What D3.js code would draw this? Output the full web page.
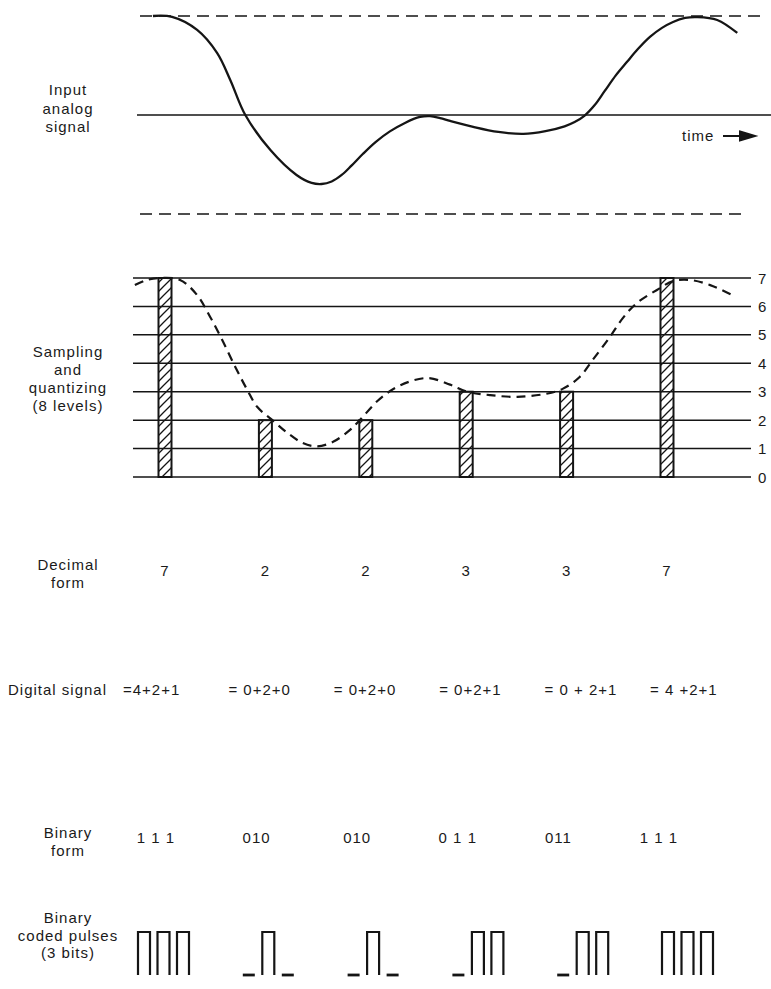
<!DOCTYPE html>
<html>
<head>
<meta charset="utf-8">
<script src="https://cdn.jsdelivr.net/npm/d3@7"></script>
<style>
  body { margin: 0; background: #fff; }
  svg text {
    font-family: "Liberation Sans", Arial, sans-serif;
    font-size: 15px;
    fill: #1a1a1a;
    letter-spacing: 1px;
  }
</style>
</head>
<body>
<div id="chart"></div>
<script>
// sample instants and the level each sample is quantized to
const samples = [0, 1, 2, 3, 4, 5];
const quantized = [7, 2, 2, 3, 3, 7];
const levels = [0, 1, 2, 3, 4, 5, 6, 7];

// row texts, as printed
const decimalLabels = ["7", "2", "2", "3", "3", "7"];
const digitalLabels = ["=4+2+1", "= 0+2+0", "= 0+2+0", "= 0+2+1", "= 0 + 2+1", "= 4 +2+1"];
const binaryLabels = ["1 1 1", "010", "010", "0 1 1", "011", "1 1 1"];

// input analog signal [time, level]
const analogSignal = [
  [-0.12, 7.0], [0.07, 6.97], [0.32, 6.51], [0.52, 5.69], [0.65, 4.74],
  [0.80, 3.5], [1.05, 2.26], [1.31, 1.38], [1.46, 1.10], [1.56, 1.06],
  [1.66, 1.15], [1.76, 1.38], [1.86, 1.72], [1.97, 2.12], [2.10, 2.55],
  [2.24, 2.92], [2.39, 3.22], [2.54, 3.43], [2.64, 3.46], [2.74, 3.39],
  [2.84, 3.29], [3.07, 3.08], [3.32, 2.90], [3.57, 2.83], [3.79, 2.93],
  [3.98, 3.10], [4.08, 3.25], [4.18, 3.48], [4.28, 3.85], [4.38, 4.35],
  [4.49, 4.90], [4.60, 5.37], [4.71, 5.83], [4.83, 6.26], [4.95, 6.58],
  [5.06, 6.79], [5.18, 6.93], [5.30, 6.96], [5.50, 6.86], [5.70, 6.40]
];

// same signal as traced (dashed) over the quantizing grid
const sampledTrace = [
  [-0.30, 6.75], [-0.18, 6.93], [-0.05, 7.0], [0.15, 6.93], [0.32, 6.40],
  [0.45, 5.63], [0.57, 4.82], [0.70, 3.87], [0.82, 3.06], [0.92, 2.46],
  [1.07, 2.0], [1.22, 1.55], [1.37, 1.20], [1.51, 1.08], [1.67, 1.23],
  [1.84, 1.65], [1.94, 2.0], [2.14, 2.75], [2.34, 3.22], [2.61, 3.48],
  [2.84, 3.25], [3.01, 3.0], [3.24, 2.88], [3.51, 2.82], [3.80, 2.93],
  [3.96, 3.1], [4.13, 3.52], [4.26, 4.12], [4.43, 4.92], [4.56, 5.59],
  [4.70, 6.12], [4.90, 6.58], [5.06, 6.89], [5.23, 6.93], [5.43, 6.75],
  [5.65, 6.40]
];

const width = 771, height = 989;
const ink = "#151515";

const svg = d3.select("#chart").append("svg")
  .attr("width", width)
  .attr("height", height)
  .style("display", "block")
  .style("background", "#fff");

// hatch for the sample bars
svg.append("defs").append("pattern")
  .attr("id", "hatch")
  .attr("patternUnits", "userSpaceOnUse")
  .attr("width", 9)
  .attr("height", 9)
  .append("path")
  .attr("d", "M-2,2 L2,-2 M0,9 L9,0 M7,11 L11,7")
  .attr("stroke", ink)
  .attr("stroke-width", 1.3);

const x = d3.scaleLinear().domain([0, 5]).range([165, 667]);
const yTop = d3.scaleLinear().domain([0, 7]).range([214, 16]);
const yLev = d3.scaleLinear().domain([0, 7]).range([477, 278]);

// left column labels
function sideLabel(lines, y0, step) {
  const t = svg.append("text").attr("text-anchor", "middle");
  lines.forEach((s, i) => {
    t.append("tspan").attr("x", 68).attr("y", y0 + i * step).text(s);
  });
}

/* ---------- input analog signal ---------- */
sideLabel(["Input", "analog", "signal"], 95, 18.5);

svg.append("line")
  .attr("x1", 140).attr("x2", 760)
  .attr("y1", yTop(7)).attr("y2", yTop(7))
  .attr("stroke", ink).attr("stroke-width", 1.5)
  .attr("stroke-dasharray", "12,7");

svg.append("line")
  .attr("x1", 140).attr("x2", 748)
  .attr("y1", yTop(0)).attr("y2", yTop(0))
  .attr("stroke", ink).attr("stroke-width", 1.5)
  .attr("stroke-dasharray", "12,7");

svg.append("line")
  .attr("x1", 137).attr("x2", 771)
  .attr("y1", yTop(3.5)).attr("y2", yTop(3.5))
  .attr("stroke", ink).attr("stroke-width", 1.4);

svg.append("path")
  .datum(analogSignal)
  .attr("fill", "none")
  .attr("stroke", ink)
  .attr("stroke-width", 2.3)
  .attr("d", d3.line()
    .x(d => x(d[0]))
    .y(d => yTop(d[1]))
    .curve(d3.curveCatmullRom.alpha(0.5)));

svg.append("text")
  .attr("x", 682).attr("y", 141)
  .text("time");

svg.append("path")
  .attr("d", "M723,136 H742 M740,131.5 L755,136 L740,140.5 Z")
  .attr("stroke", ink)
  .attr("stroke-width", 2)
  .attr("fill", ink);

/* ---------- sampling and quantizing ---------- */
sideLabel(["Sampling", "and", "quantizing", "(8 levels)"], 357, 18);

svg.append("g")
  .selectAll("rect")
  .data(samples)
  .join("rect")
  .attr("x", d => x(d) - 6.5)
  .attr("width", 13)
  .attr("y", (d, i) => yLev(quantized[i]))
  .attr("height", (d, i) => yLev(0) - yLev(quantized[i]))
  .attr("fill", "url(#hatch)")
  .attr("stroke", ink)
  .attr("stroke-width", 2);

svg.append("g")
  .selectAll("line")
  .data(levels)
  .join("line")
  .attr("x1", 133).attr("x2", 751)
  .attr("y1", d => yLev(d)).attr("y2", d => yLev(d))
  .attr("stroke", ink)
  .attr("stroke-width", 1.5);

svg.append("g")
  .selectAll("text")
  .data(levels)
  .join("text")
  .attr("x", 758)
  .attr("y", d => yLev(d) + 5.5)
  .text(d => d);

svg.append("path")
  .datum(sampledTrace)
  .attr("fill", "none")
  .attr("stroke", ink)
  .attr("stroke-width", 2.2)
  .attr("stroke-dasharray", "9,6")
  .attr("d", d3.line()
    .x(d => x(d[0]))
    .y(d => yLev(d[1]))
    .curve(d3.curveCatmullRom.alpha(0.5)));

/* ---------- decimal form ---------- */
sideLabel(["Decimal", "form"], 570, 18);

svg.append("g")
  .selectAll("text")
  .data(decimalLabels)
  .join("text")
  .attr("text-anchor", "middle")
  .attr("x", (d, i) => x(samples[i]))
  .attr("y", 576)
  .text(d => d);

/* ---------- digital signal ---------- */
svg.append("text")
  .attr("x", 8).attr("y", 695)
  .text("Digital signal");

const xDigital = d3.scaleLinear().domain([0, 5]).range([123, 650]);
svg.append("g")
  .selectAll("text")
  .data(digitalLabels)
  .join("text")
  .attr("x", (d, i) => xDigital(samples[i]))
  .attr("y", 695)
  .style("white-space", "pre")
  .text(d => d);

/* ---------- binary form ---------- */
sideLabel(["Binary", "form"], 838, 17.5);

const xBinary = d3.scaleLinear().domain([0, 5]).range([156, 659]);
svg.append("g")
  .selectAll("text")
  .data(binaryLabels)
  .join("text")
  .attr("text-anchor", "middle")
  .attr("x", (d, i) => xBinary(samples[i]))
  .attr("y", 843)
  .style("white-space", "pre")
  .text(d => d);

/* ---------- binary coded pulses ---------- */
sideLabel(["Binary", "coded pulses", "(3 bits)"], 923, 17.5);

const xPulse = d3.scaleLinear().domain([0, 5]).range([138, 662]);
const yPulse = d3.scaleLinear().domain([0, 1]).range([975, 932]);
const slot = 19.5, pulseW = 12;

const bits = quantized.map(v => v.toString(2).padStart(3, "0").split("").map(Number));

const pulseGroups = svg.append("g")
  .selectAll("g")
  .data(bits)
  .join("g")
  .attr("transform", (d, i) => `translate(${xPulse(samples[i])},0)`);

pulseGroups.selectAll("path")
  .data(d => d)
  .join("path")
  .attr("fill", "none")
  .attr("stroke", ink)
  .attr("stroke-width", b => b ? 2.2 : 2.8)
  .attr("d", (b, j) => {
    const s = j * slot;
    return b
      ? `M${s},${yPulse(0)} V${yPulse(1)} H${s + pulseW} V${yPulse(0)}`
      : `M${s},${yPulse(0)} H${s + pulseW}`;
  });
</script>
</body>
</html>
